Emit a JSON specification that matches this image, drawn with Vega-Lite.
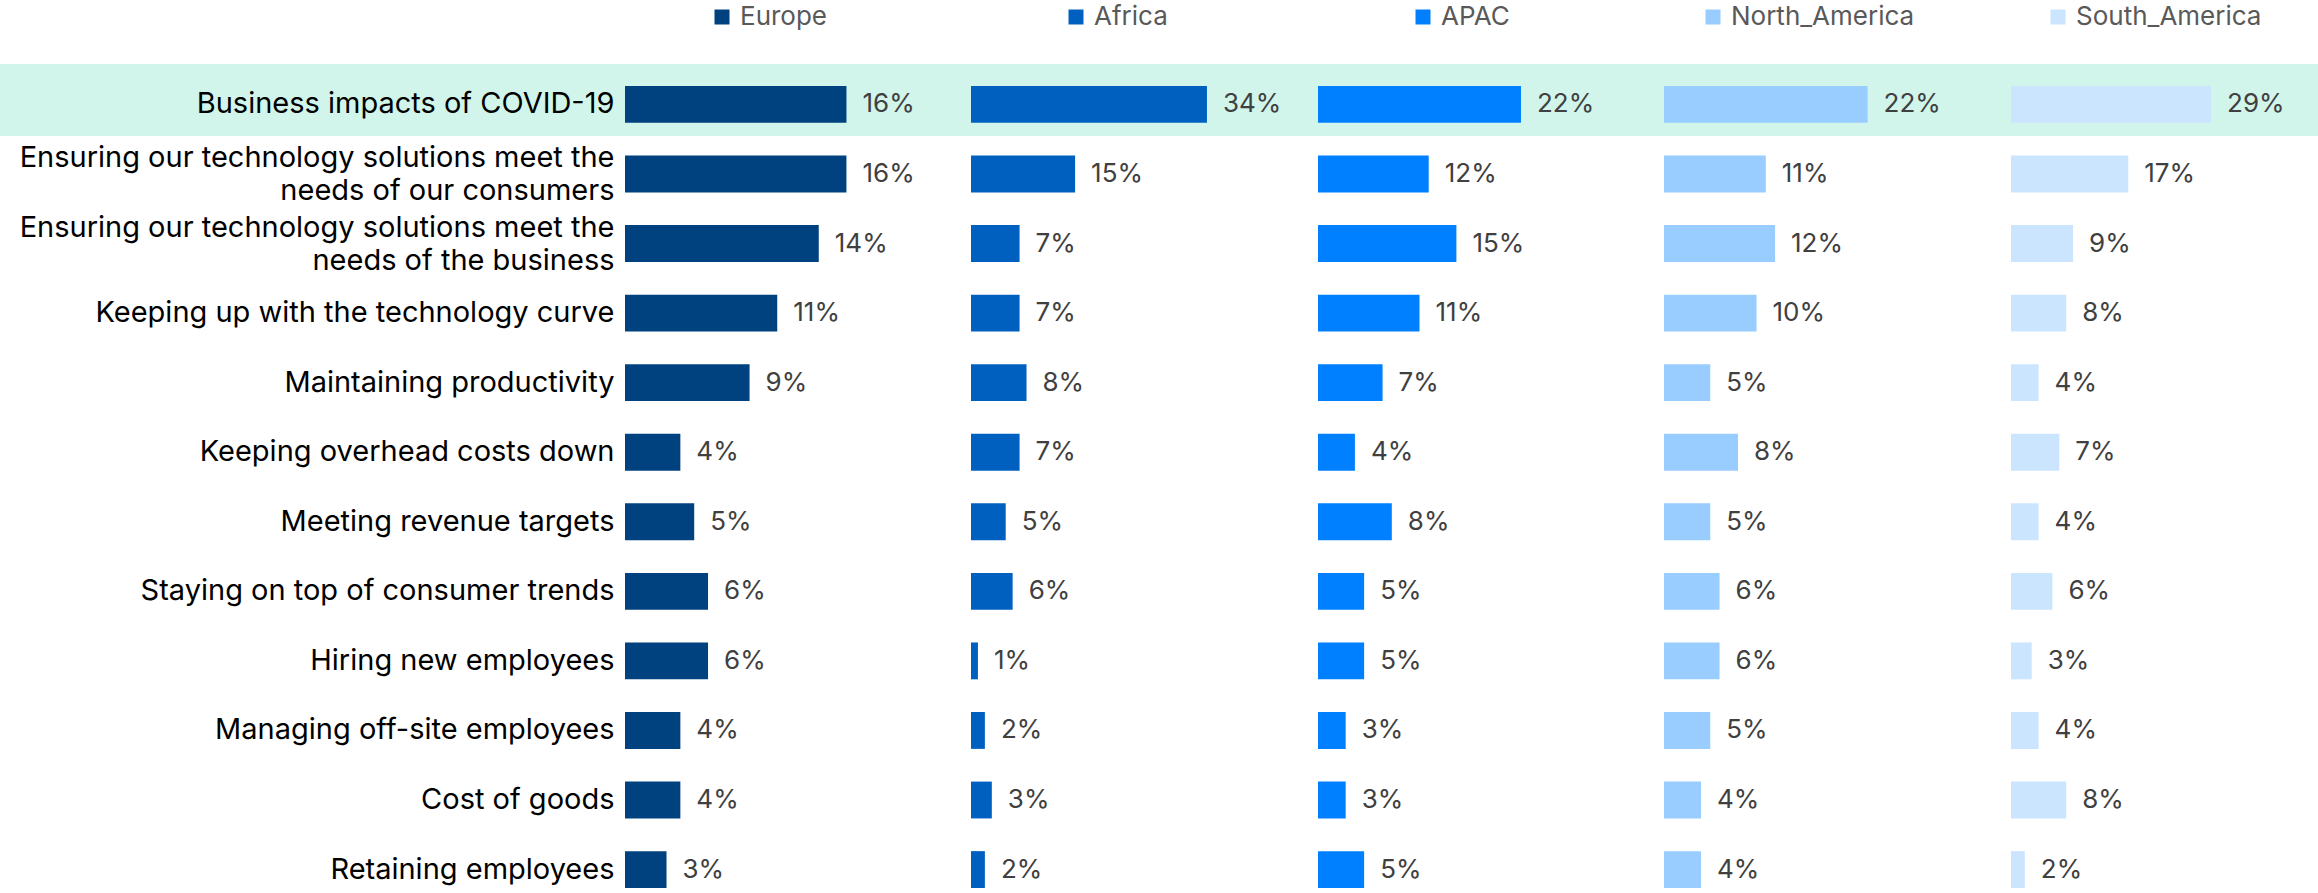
{
  "$schema": "https://vega.github.io/schema/vega-lite/v6.json",
  "padding": {"top": 4, "left": 0, "right": 0, "bottom": 0},
  "background": "white",
  "spacing": 0,
  "bounds": "flush",
  "config": {
    "view": {"stroke": null},
    "font": "Inter",
    "legend": {
      "orient": "none",
      "title": null,
      "padding": 0,
      "symbolType": "square",
      "symbolSize": 225,
      "symbolStrokeWidth": 0,
      "labelFont": "Inter",
      "labelFontSize": 26,
      "labelColor": "#595959",
      "labelOffset": 5,
      "labelLimit": 500
    }
  },
  "data": {
    "values": [
      {"region": "Europe", "category": "Business impacts of COVID-19", "value": 0.16},
      {"region": "Europe", "category": "Ensuring our technology solutions meet the\nneeds of our consumers", "value": 0.16},
      {"region": "Europe", "category": "Ensuring our technology solutions meet the\nneeds of the business", "value": 0.14},
      {"region": "Europe", "category": "Keeping up with the technology curve", "value": 0.11},
      {"region": "Europe", "category": "Maintaining productivity", "value": 0.09},
      {"region": "Europe", "category": "Keeping overhead costs down", "value": 0.04},
      {"region": "Europe", "category": "Meeting revenue targets", "value": 0.05},
      {"region": "Europe", "category": "Staying on top of consumer trends", "value": 0.06},
      {"region": "Europe", "category": "Hiring new employees", "value": 0.06},
      {"region": "Europe", "category": "Managing off-site employees", "value": 0.04},
      {"region": "Europe", "category": "Cost of goods", "value": 0.04},
      {"region": "Europe", "category": "Retaining employees", "value": 0.03},
      {"region": "Africa", "category": "Business impacts of COVID-19", "value": 0.34},
      {"region": "Africa", "category": "Ensuring our technology solutions meet the\nneeds of our consumers", "value": 0.15},
      {"region": "Africa", "category": "Ensuring our technology solutions meet the\nneeds of the business", "value": 0.07},
      {"region": "Africa", "category": "Keeping up with the technology curve", "value": 0.07},
      {"region": "Africa", "category": "Maintaining productivity", "value": 0.08},
      {"region": "Africa", "category": "Keeping overhead costs down", "value": 0.07},
      {"region": "Africa", "category": "Meeting revenue targets", "value": 0.05},
      {"region": "Africa", "category": "Staying on top of consumer trends", "value": 0.06},
      {"region": "Africa", "category": "Hiring new employees", "value": 0.01},
      {"region": "Africa", "category": "Managing off-site employees", "value": 0.02},
      {"region": "Africa", "category": "Cost of goods", "value": 0.03},
      {"region": "Africa", "category": "Retaining employees", "value": 0.02},
      {"region": "APAC", "category": "Business impacts of COVID-19", "value": 0.22},
      {"region": "APAC", "category": "Ensuring our technology solutions meet the\nneeds of our consumers", "value": 0.12},
      {"region": "APAC", "category": "Ensuring our technology solutions meet the\nneeds of the business", "value": 0.15},
      {"region": "APAC", "category": "Keeping up with the technology curve", "value": 0.11},
      {"region": "APAC", "category": "Maintaining productivity", "value": 0.07},
      {"region": "APAC", "category": "Keeping overhead costs down", "value": 0.04},
      {"region": "APAC", "category": "Meeting revenue targets", "value": 0.08},
      {"region": "APAC", "category": "Staying on top of consumer trends", "value": 0.05},
      {"region": "APAC", "category": "Hiring new employees", "value": 0.05},
      {"region": "APAC", "category": "Managing off-site employees", "value": 0.03},
      {"region": "APAC", "category": "Cost of goods", "value": 0.03},
      {"region": "APAC", "category": "Retaining employees", "value": 0.05},
      {"region": "North_America", "category": "Business impacts of COVID-19", "value": 0.22},
      {"region": "North_America", "category": "Ensuring our technology solutions meet the\nneeds of our consumers", "value": 0.11},
      {"region": "North_America", "category": "Ensuring our technology solutions meet the\nneeds of the business", "value": 0.12},
      {"region": "North_America", "category": "Keeping up with the technology curve", "value": 0.10},
      {"region": "North_America", "category": "Maintaining productivity", "value": 0.05},
      {"region": "North_America", "category": "Keeping overhead costs down", "value": 0.08},
      {"region": "North_America", "category": "Meeting revenue targets", "value": 0.05},
      {"region": "North_America", "category": "Staying on top of consumer trends", "value": 0.06},
      {"region": "North_America", "category": "Hiring new employees", "value": 0.06},
      {"region": "North_America", "category": "Managing off-site employees", "value": 0.05},
      {"region": "North_America", "category": "Cost of goods", "value": 0.04},
      {"region": "North_America", "category": "Retaining employees", "value": 0.04},
      {"region": "South_America", "category": "Business impacts of COVID-19", "value": 0.29},
      {"region": "South_America", "category": "Ensuring our technology solutions meet the\nneeds of our consumers", "value": 0.17},
      {"region": "South_America", "category": "Ensuring our technology solutions meet the\nneeds of the business", "value": 0.09},
      {"region": "South_America", "category": "Keeping up with the technology curve", "value": 0.08},
      {"region": "South_America", "category": "Maintaining productivity", "value": 0.04},
      {"region": "South_America", "category": "Keeping overhead costs down", "value": 0.07},
      {"region": "South_America", "category": "Meeting revenue targets", "value": 0.04},
      {"region": "South_America", "category": "Staying on top of consumer trends", "value": 0.06},
      {"region": "South_America", "category": "Hiring new employees", "value": 0.03},
      {"region": "South_America", "category": "Managing off-site employees", "value": 0.04},
      {"region": "South_America", "category": "Cost of goods", "value": 0.08},
      {"region": "South_America", "category": "Retaining employees", "value": 0.02}
    ]
  },
  "resolve": {
    "scale": {"x": "independent", "y": "independent", "color": "independent"},
    "axis": {"y": "independent", "x": "independent"},
    "legend": {"color": "independent"}
  },
  "hconcat": [
    {
      "width": 625, "height": 802,
      "transform": [{"filter": "datum.region === 'Europe'"}],
      "mark": {"type": "bar", "height": 72, "yOffset": -4.5},
      "encoding": {
        "y": {"field": "category", "type": "nominal", "sort": null, "axis": null, "scale": {"paddingInner": 0.47, "paddingOuter": 0}},
        "x": {"value": 0},
        "x2": {"value": "width"},
        "fill": {"condition": {"test": "datum.category === 'Business impacts of COVID-19'", "value": "#d1f5eb"}, "value": "transparent"}
      }
    },
    {
      "width": 346, "height": 802,
      "transform": [{"filter": "datum.region === 'Europe'"}],
      "encoding": {
        "y": {"field": "category", "type": "nominal", "sort": null, "scale": {"paddingInner": 0.47, "paddingOuter": 0},
          "axis": {"title": null, "ticks": false, "domain": false, "labelPadding": 11, "labelFont": "Inter", "labelFontSize": 29, "labelColor": "#000000", "labelLimit": 800, "labelLineHeight": 33,
            "labelOffset": {"condition": {"test": "indexof(datum.label, '\\n') >= 0", "value": -16}, "value": 0},
            "labelExpr": "split(datum.label, '\\n')"}}
      },
      "layer": [
        {"mark": {"type": "bar", "height": 72, "yOffset": -4.5},
         "encoding": {"x": {"value": 0}, "x2": {"value": "width"},
           "fill": {"condition": {"test": "datum.category === 'Business impacts of COVID-19'", "value": "#d1f5eb"}, "value": "transparent"}}},
        {"mark": {"type": "bar"},
         "encoding": {"x": {"field": "value", "type": "quantitative", "scale": {"domain": [0, 0.25], "nice": false}, "axis": null},
           "color": {"field": "region", "type": "nominal", "scale": {"domain": ["Europe"], "range": ["#00417f"]}, "legend": {"legendX": 84, "legendY": -82}}}},
        {"mark": {"type": "text", "align": "left", "baseline": "middle", "dx": 16, "font": "Inter", "fontSize": 26, "color": "#404040"},
         "encoding": {"x": {"field": "value", "type": "quantitative"}, "text": {"field": "value", "type": "quantitative", "format": ".0%"}}}
      ]
    },
    {
      "width": 347, "height": 802,
      "transform": [{"filter": "datum.region === 'Africa'"}],
      "encoding": {
        "y": {"field": "category", "type": "nominal", "sort": null, "scale": {"paddingInner": 0.47, "paddingOuter": 0}, "axis": null}
      },
      "layer": [
        {"mark": {"type": "bar", "height": 72, "yOffset": -4.5},
         "encoding": {"x": {"value": 0}, "x2": {"value": "width"},
           "fill": {"condition": {"test": "datum.category === 'Business impacts of COVID-19'", "value": "#d1f5eb"}, "value": "transparent"}}},
        {"mark": {"type": "bar"},
         "encoding": {"x": {"field": "value", "type": "quantitative", "scale": {"domain": [0, 0.5], "nice": false}, "axis": null},
           "color": {"field": "region", "type": "nominal", "scale": {"domain": ["Africa"], "range": ["#0060bf"]}, "legend": {"legendX": 92, "legendY": -82}}}},
        {"mark": {"type": "text", "align": "left", "baseline": "middle", "dx": 16, "font": "Inter", "fontSize": 26, "color": "#404040"},
         "encoding": {"x": {"field": "value", "type": "quantitative"}, "text": {"field": "value", "type": "quantitative", "format": ".0%"}}}
      ]
    },
    {
      "width": 346, "height": 802,
      "transform": [{"filter": "datum.region === 'APAC'"}],
      "encoding": {
        "y": {"field": "category", "type": "nominal", "sort": null, "scale": {"paddingInner": 0.47, "paddingOuter": 0}, "axis": null}
      },
      "layer": [
        {"mark": {"type": "bar", "height": 72, "yOffset": -4.5},
         "encoding": {"x": {"value": 0}, "x2": {"value": "width"},
           "fill": {"condition": {"test": "datum.category === 'Business impacts of COVID-19'", "value": "#d1f5eb"}, "value": "transparent"}}},
        {"mark": {"type": "bar"},
         "encoding": {"x": {"field": "value", "type": "quantitative", "scale": {"domain": [0, 0.375], "nice": false}, "axis": null},
           "color": {"field": "region", "type": "nominal", "scale": {"domain": ["APAC"], "range": ["#0080ff"]}, "legend": {"legendX": 92, "legendY": -82}}}},
        {"mark": {"type": "text", "align": "left", "baseline": "middle", "dx": 16, "font": "Inter", "fontSize": 26, "color": "#404040"},
         "encoding": {"x": {"field": "value", "type": "quantitative"}, "text": {"field": "value", "type": "quantitative", "format": ".0%"}}}
      ]
    },
    {
      "width": 347, "height": 802,
      "transform": [{"filter": "datum.region === 'North_America'"}],
      "encoding": {
        "y": {"field": "category", "type": "nominal", "sort": null, "scale": {"paddingInner": 0.47, "paddingOuter": 0}, "axis": null}
      },
      "layer": [
        {"mark": {"type": "bar", "height": 72, "yOffset": -4.5},
         "encoding": {"x": {"value": 0}, "x2": {"value": "width"},
           "fill": {"condition": {"test": "datum.category === 'Business impacts of COVID-19'", "value": "#d1f5eb"}, "value": "transparent"}}},
        {"mark": {"type": "bar"},
         "encoding": {"x": {"field": "value", "type": "quantitative", "scale": {"domain": [0, 0.375], "nice": false}, "axis": null},
           "color": {"field": "region", "type": "nominal", "scale": {"domain": ["North_America"], "range": ["#99ccff"]}, "legend": {"legendX": 36, "legendY": -82}}}},
        {"mark": {"type": "text", "align": "left", "baseline": "middle", "dx": 16, "font": "Inter", "fontSize": 26, "color": "#404040"},
         "encoding": {"x": {"field": "value", "type": "quantitative"}, "text": {"field": "value", "type": "quantitative", "format": ".0%"}}}
      ]
    },
    {
      "width": 307, "height": 802,
      "transform": [{"filter": "datum.region === 'South_America'"}],
      "encoding": {
        "y": {"field": "category", "type": "nominal", "sort": null, "scale": {"paddingInner": 0.47, "paddingOuter": 0}, "axis": null}
      },
      "layer": [
        {"mark": {"type": "bar", "height": 72, "yOffset": -4.5},
         "encoding": {"x": {"value": 0}, "x2": {"value": "width"},
           "fill": {"condition": {"test": "datum.category === 'Business impacts of COVID-19'", "value": "#d1f5eb"}, "value": "transparent"}}},
        {"mark": {"type": "bar"},
         "encoding": {"x": {"field": "value", "type": "quantitative", "scale": {"domain": [0, 0.445], "nice": false}, "axis": null},
           "color": {"field": "region", "type": "nominal", "scale": {"domain": ["South_America"], "range": ["#cce5ff"]}, "legend": {"legendX": 34, "legendY": -82}}}},
        {"mark": {"type": "text", "align": "left", "baseline": "middle", "dx": 16, "font": "Inter", "fontSize": 26, "color": "#404040"},
         "encoding": {"x": {"field": "value", "type": "quantitative"}, "text": {"field": "value", "type": "quantitative", "format": ".0%"}}}
      ]
    }
  ]
}
